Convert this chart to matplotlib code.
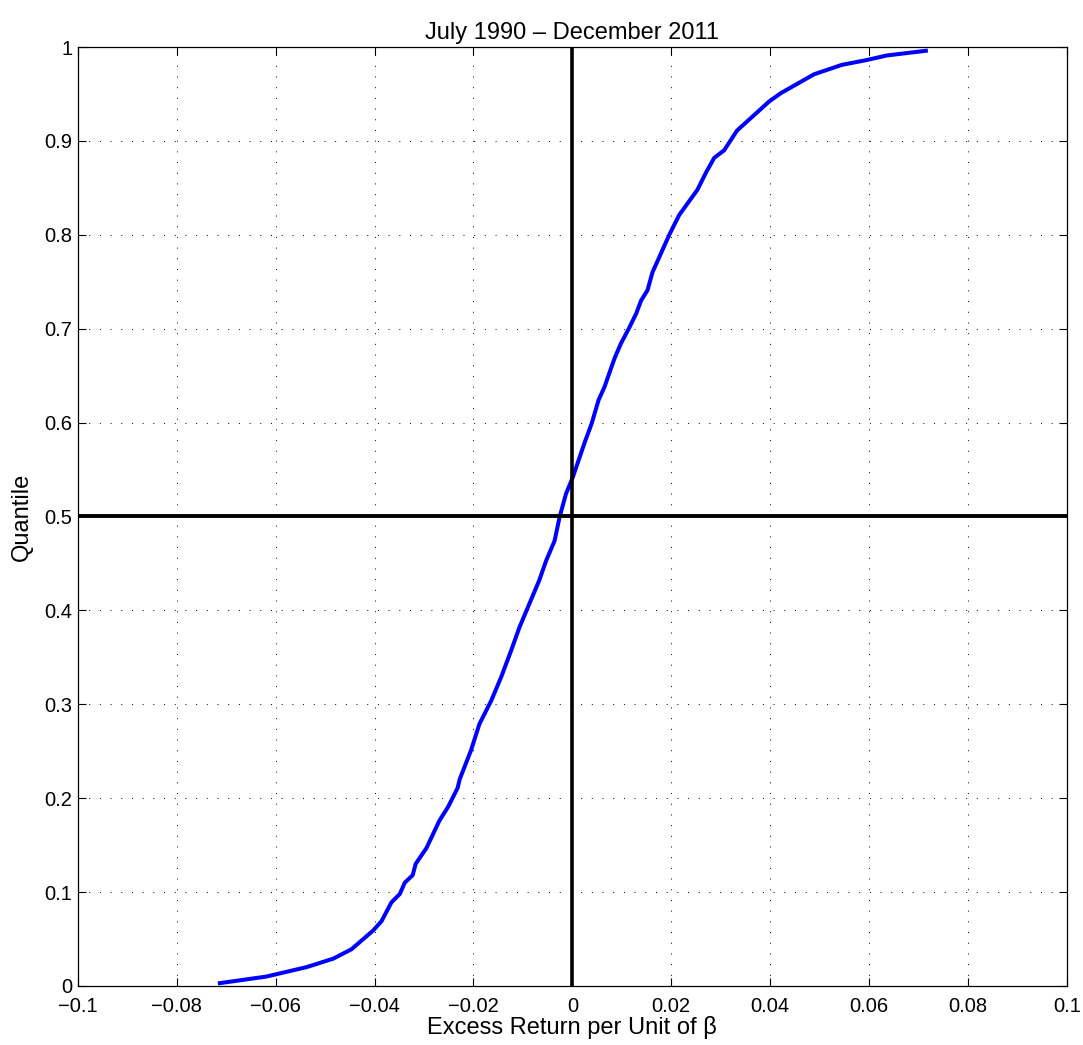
import numpy as np
import matplotlib
matplotlib.use('Agg')
import matplotlib.pyplot as plt

##      Data       ##
excess_ret = [-0.0713, -0.0619, -0.0538, -0.0484, -0.0447, -0.0403, -0.0386, -0.0366,
              -0.0349, -0.0339, -0.0323, -0.0317, -0.0295, -0.0269, -0.0251, -0.0232,
              -0.0228, -0.0205, -0.0188, -0.0164, -0.0144, -0.0124, -0.0107, -0.0087,
              -0.0067, -0.0053, -0.0036, -0.0026, -0.0013, 0.0001, 0.0025, 0.0039,
              0.0053, 0.0065, 0.0085, 0.0098, 0.0115, 0.0129, 0.0139, 0.0152,
              0.0162, 0.0179, 0.0196, 0.0216, 0.0253, 0.0270, 0.0287, 0.0307,
              0.0333, 0.0398, 0.0422, 0.0489, 0.0545, 0.0594, 0.0636, 0.0715]
quantile = [0.003, 0.010, 0.020, 0.029, 0.039, 0.059, 0.069, 0.089,
            0.098, 0.110, 0.118, 0.130, 0.147, 0.176, 0.191, 0.211,
            0.220, 0.251, 0.279, 0.304, 0.329, 0.357, 0.382, 0.407,
            0.432, 0.453, 0.474, 0.499, 0.524, 0.542, 0.579, 0.599,
            0.624, 0.638, 0.668, 0.684, 0.701, 0.716, 0.730, 0.741,
            0.760, 0.780, 0.800, 0.821, 0.848, 0.866, 0.882, 0.890,
            0.911, 0.942, 0.951, 0.971, 0.981, 0.986, 0.991, 0.996]

xticks = np.round(np.arange(-0.1, 0.1001, 0.02), 2)
yticks = np.round(np.arange(0, 1.001, 0.1), 1)

plt.rcParams['font.family'] = ['Liberation Sans', 'DejaVu Sans']

fig = plt.figure(figsize=(10.83, 10.45), dpi=100)
ax = fig.add_axes([0.072, 0.0565, 0.913, 0.8985])

ax.plot(excess_ret, quantile, color='#0000ff', lw=2.9, zorder=3)
ax.plot([0, 0], [0, 1], color='black', lw=2.6, zorder=4)
ax.axhline(0.5, color='black', lw=2.8, zorder=4)

ax.set_xlim(-0.1, 0.1)
ax.set_ylim(0, 1)
ax.set_xticks(xticks)
ax.set_yticks(yticks)
ax.set_xticklabels(['0' if v == 0 else ('%g' % v).replace('-', '\u2212') for v in xticks])
ax.set_yticklabels(['0' if v == 0 else ('1' if v == 1 else '%g' % v) for v in yticks])
ax.grid(True, color='black', linestyle=(0, (1, 10)), lw=0.7)
ax.tick_params(direction='in', top=True, right=True, length=6, width=0.8,
               labelsize=14.5)
ax.tick_params(axis='x', pad=8)
ax.tick_params(axis='y', pad=4)
for s in ax.spines.values():
    s.set_linewidth(0.9)

ax.set_title('July 1990 \u2013 December 2011', fontsize=17, pad=6)
ax.set_xlabel('Excess Return per Unit of \u03b2', fontsize=17, labelpad=0)
ax.set_ylabel('Quantile', fontsize=17, labelpad=8)

fig.savefig('out.png', dpi=100)
